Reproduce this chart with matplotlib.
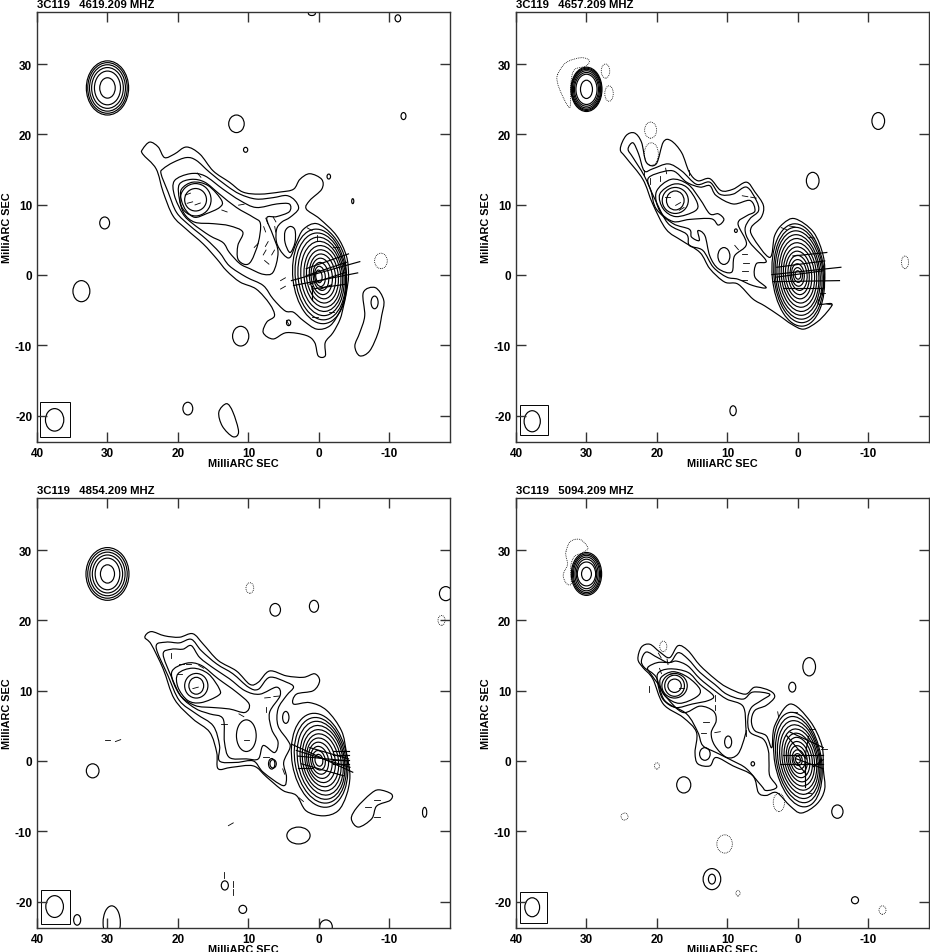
import numpy as np
import matplotlib
matplotlib.use('Agg')
import matplotlib.pyplot as plt
from matplotlib.path import Path
from matplotlib.patches import PathPatch, Ellipse, Rectangle

plt.rcParams['font.family'] = ['Liberation Sans', 'DejaVu Sans']
plt.rcParams['axes.unicode_minus'] = False

freqs = ['4619.209', '4657.209', '4854.209', '5094.209']
x_ticks = [40, 30, 20, 10, 0, -10]
y_ticks = [30, 20, 10, 0, -10, -20]

# ---- panel 1, all in milliarcsec
p1_jet = [
    [(25.0,17.9),(24.0,18.9),(22.8,18.2),(21.9,16.7),(20.5,17.2),(18.8,18.2),(16.9,17.2),(15.0,14.8),(12.7,13.2),
     (10.8,11.8),(8.4,11.5),(5.5,11.8),(3.6,12.2),(2.7,13.6),(1.3,14.4),(-0.4,13.6),(-0.4,12.2),(1.3,10.6),(1.8,9.4),
     (-0.1,8.0),(-2.5,5.6),(-3.9,2.7),(-4.2,-0.1),(-3.9,-2.5),(-3.5,-4.4),(-3.0,-6.3),(-2.0,-8.2),(-0.9,-9.6),
     (-0.9,-11.5),(0.1,-11.5),(0.6,-9.6),(1.8,-8.6),(4.6,-8.2),(6.5,-9.1),(7.9,-8.2),(7.4,-6.7),(6.3,-5.8),(7.0,-4.1),
     (8.9,-2.0),(11.2,-1.0),(13.1,0.6),(14.5,2.3),(16.4,4.4),(18.8,6.5),(20.7,8.4),(22.1,11.8),(23.1,15.1),(25.0,17.2)],
    [(22.1,15.1),(20.7,16.0),(18.8,16.7),(17.4,16.3),(15.5,14.6),(13.1,12.7),(11.2,11.5),(8.9,10.8),(6.5,11.0),(4.6,11.3),
     (3.4,10.6),(2.9,9.4),(4.1,8.2),(5.3,7.5),(6.0,6.5),(6.0,4.6),(5.1,3.0),(4.1,2.5),(3.2,4.6),(2.2,6.5),(0.3,7.3),
     (-2.0,5.6),(-3.5,3.0),(-3.9,-0.1),(-3.7,-2.9),(-3.0,-5.1),(-1.6,-7.2),(0.3,-7.7),(2.2,-6.5),(3.6,-5.3),(4.8,-5.1),
     (6.5,-3.4),(7.9,-1.5),(10.3,-0.3),(12.7,1.3),(14.1,3.2),(16.0,5.1),(18.3,7.0),(20.2,8.9),(21.4,11.8),(22.4,14.4)],
    [(20.5,13.4),(18.3,14.4),(16.2,14.1),(13.6,12.2),(11.2,10.6),(8.9,9.6),(6.0,10.1),(4.2,10.1),(4.2,9.0),(6.0,8.3),
     (7.4,8.1),(6.5,5.6),(5.8,3.2),(6.5,0.4),(7.9,0.1),(9.8,0.9),(11.2,1.6),(12.7,3.2),(13.6,4.6),(15.5,5.6),(17.9,7.3),
     (19.3,8.7),(20.5,11.3)],
    [(19.8,12.9),(18.1,13.6),(16.2,13.2),(14.1,11.5),(11.7,9.6),(9.3,8.2),(8.3,7.3),(8.6,4.6),(9.6,2.0),(10.5,1.5),
     (11.5,2.3),(11.5,4.2),(10.8,6.1),(12.7,7.0),(15.0,7.3),(17.6,7.5),(19.1,8.7),(19.8,10.8)],
    [(19.5,12.2),(17.9,13.2),(15.7,12.7),(13.8,10.6),(14.1,9.6),(16.0,8.7),(17.6,8.2),(18.8,9.1),(19.5,10.6)],
    [(-6.3,-2.5),(-8.0,-1.8),(-9.2,-3.6),(-8.9,-5.8),(-8.4,-8.2),(-7.2,-10.8),(-5.8,-11.5),(-5.1,-10.1),(-5.8,-8.2),(-6.5,-5.8)],
    [(14.2,-19.5),(13.1,-18.3),(12.2,-19.5),(11.4,-22.3),(12.2,-23.0),(13.7,-21.5)],
    [(4.1,6.9),(3.4,6.4),(3.4,4.6),(4.1,3.2),(4.8,4.6),(4.8,6.2)],
]
p1_dotted_lines = []
p1_solid = [(17.5,10.7,4.4,4.6),(17.5,10.7,3.1,3.2),
            (11.7,21.5,2.2,2.5),(10.4,17.8,0.6,0.7),(-1.4,14.0,0.5,0.7),(-4.8,10.5,0.3,0.7),(30.4,7.4,1.4,1.7),
            (33.7,-2.3,2.4,3.0),(11.1,-8.7,2.3,2.8),(18.6,-19.0,1.4,1.8),(-11.2,36.5,0.8,1.0),(-12.0,22.6,0.7,1.0),
            (1.0,37.2,1.0,0.6),(4.3,-6.8,0.6,0.8),(-7.9,-3.9,1.0,1.8)]
p1_dotted = [(-8.8,2.0,1.8,2.2)]
p1_core_w = [7.6,7.1,6.5,5.9,5.2,4.5,3.7,3.0,2.2,1.5,0.9]
p1_core_h = [13.5,12.4,11.2,10.0,8.8,7.6,6.4,5.2,4.0,2.9,1.8]
p1_core_x = [-0.1,-0.2,-0.3,-0.4,-0.5,-0.5,-0.5,-0.4,-0.3,-0.15,0.0]
p1_src_w = [6.0,5.6,5.1,4.5,3.7,2.2]
p1_src_h = [7.7,7.2,6.6,5.8,4.8,2.9]
p1_long = [(3.9,-0.8,-5.8,1.9),(3.6,-1.5,-5.5,0.3),(1.8,0.9,-4.2,3.0),(1.8,-0.1,-3.9,1.8),(1.3,-1.3,-3.9,0.4),
           (1.0,-2.0,-3.9,-1.3),(1.0,-1.6,1.0,-3.6),(-0.2,-2.0,-1.8,-1.4)]
p1_tick_x = [7.4,7.7,7.4,7.7,6.5,7.4,6.3,6.2,5.1,5.1,18.6,17.2,18.3,13.4,11.0,8.9,0.3,1.3,4.4,17.0,-1.8,-2.4,0.6]
p1_tick_y = [7.7,6.5,4.4,3.2,3.2,1.8,7.9,6.5,-0.6,-1.8,11.5,10.1,10.3,9.1,10.0,4.2,5.3,6.5,-6.8,14.2,-5.2,4.0,-6.0]
p1_tick_a = [70,70,-60,-60,-60,40,60,80,-30,-30,-20,-20,-15,20,-10,-45,90,30,60,50,0,0,0]

# ---- panel 2
p2_jet = [
    [(25.2,17.9),(24.4,19.8),(23.2,20.2),(22.2,18.9),(21.5,16.0),(20.1,15.8),(19.1,18.9),(18.0,19.1),(16.5,17.4),(15.4,14.6),
     (14.2,13.4),(12.5,13.7),(10.9,12.0),(9.2,12.2),(7.3,13.2),(6.1,11.8),(4.9,9.9),(5.2,8.2),(6.6,6.8),(6.4,5.4),(4.0,2.5),
     (3.3,5.6),(2.1,7.3),(0.4,8.0),(-2.2,6.1),(-3.6,2.7),(-3.8,-0.6),(-3.4,-2.5),(-2.9,-4.1),(-4.8,-4.1),(-4.1,-5.3),(-2.7,-6.7),
     (-0.8,-7.7),(0.9,-7.0),(2.6,-5.8),(4.7,-4.4),(6.4,-3.4),(8.5,-1.3),(10.4,-1.0),(12.5,0.9),(13.9,3.2),(16.5,4.9),(18.7,6.5),
     (20.6,10.1),(22.0,13.6),(24.4,16.7)],
    [(24.1,17.9),(23.4,18.8),(22.6,17.2),(21.8,14.8),(20.6,15.1),(18.4,15.8),(16.5,14.8),(14.4,12.9),(12.5,13.2),(11.1,11.5),
     (9.2,11.5),(7.3,12.5),(5.9,10.6),(5.6,9.1),(6.8,8.0),(7.5,6.5),(6.8,4.6),(4.5,2.0),(5.9,1.6),(6.1,-0.3),(4.5,-1.8),(6.4,-1.5),
     (8.5,-0.6),(10.1,-0.3),(12.0,1.1),(13.5,3.5),(15.4,4.2),(15.8,5.8),(18.4,7.3),(20.3,10.8),(21.8,14.1),(23.4,16.7)],
    [(21.3,13.6),(20.1,14.4),(17.7,14.8),(15.8,13.2),(13.9,12.5),(12.5,12.7),(11.6,11.3),(9.2,10.1),(6.8,10.6),(6.1,9.1),(7.3,8.4),
     (8.5,7.3),(7.3,4.4),(9.0,2.7),(9.4,0.4),(11.3,0.9),(12.5,2.7),(13.2,5.6),(14.2,6.3),(14.0,4.9),(15.1,5.4),(15.4,6.5),(17.7,7.3),
     (20.1,9.4),(20.8,11.8)],
    [(20.1,11.8),(18.0,13.6),(15.6,12.9),(13.9,10.8),(12.5,8.7),(11.3,8.7),(10.5,7.9),(11.3,7.1),(12.3,8.0),(15.4,7.9),(17.7,7.6),(19.6,9.1)],
    [(19.6,11.5),(17.7,12.9),(15.8,12.5),(14.3,10.3),(14.6,9.1),(17.3,8.3),(19.1,9.4)],
]
p2_dotted_lines = [[(34.1,28.5),(32.9,30.2),(30.8,30.9),(29.6,30.5),(30.1,29.7),(31.7,29.2),(32.2,27.4),(32.3,24.0),(32.8,24.3),(33.6,25.9),(34.1,27.3)]]
p2_solid = [(17.4,10.6,3.7,3.7),(17.4,10.6,2.5,2.7),(10.5,2.7,1.7,2.4),(8.8,6.3,0.4,0.5),(-11.4,21.9,1.8,2.4),(-2.1,13.4,1.8,2.4),(9.2,-19.3,0.9,1.4)]
p2_dotted = [(20.9,20.6,1.7,2.3),(20.8,17.2,2.0,3.2),(27.3,29.0,1.2,2.0),(26.8,25.8,1.2,2.2),(-15.2,1.8,1.0,1.8)]
p2_core_w = [7.4,7.0,6.6,6.1,5.6,5.0,4.4,3.7,3.0,2.4,1.8,1.3,0.8]
p2_core_h = [14.6,13.6,12.6,11.5,10.4,9.2,8.0,6.8,5.6,4.4,3.2,2.1,1.2]
p2_core_x = [-0.05,-0.1,-0.1,-0.1,-0.15,-0.15,-0.15,-0.1,-0.1,-0.1,0.0,0.0,0.0]
p2_src_w = [4.4,4.2,4.0,3.7,3.4,3.0,1.7]
p2_src_h = [6.3,6.0,5.7,5.3,4.8,4.3,2.6]
p2_long = [(3.7,0.05,-6.1,1.1),(3.5,-0.95,-5.9,-0.8),(3.0,1.1,-3.8,2.0),(3.0,-0.3,-3.6,0.6),(2.1,-1.8,-3.6,-1.8),(0.7,2.7,-4.1,3.2)]
p2_tick_x = [21.8,21.0,19.5,18.7,18.5,17.0,16.5,7.5,6.3,7.6,7.4,7.5,7.6,8.7,2.0,0.8,-2.0,-3.5,-4.5,15.5]
p2_tick_y = [14.5,13.4,13.7,14.8,11.1,10.1,9.4,11.2,11.0,3.0,1.7,0.5,-0.7,3.9,6.6,6.9,5.3,-2.6,-4.2,14.6]
p2_tick_a = [90,90,90,80,0,-30,-30,10,10,0,0,0,0,50,20,10,10,0,10,90]

# ---- panel 3
p3_jet = [
    [(24.7,17.6),(23.8,18.4),(21.9,17.8),(19.8,17.6),(17.9,18.1),(16.4,16.6),(14.3,14.3),(11.7,12.8),(9.8,10.9),(8.6,11.2),(7.0,12.8),
     (4.6,12.1),(2.2,11.9),(0.6,12.4),(-0.1,11.4),(0.8,10.0),(3.2,9.5),(3.6,8.1),(1.3,8.3),(-1.1,7.2),(-3.2,4.3),(-3.9,1.2),(-4.4,-2.1),
     (-3.9,-4.9),(-2.7,-7.1),(-0.6,-7.8),(1.8,-7.1),(3.2,-4.9),(5.1,-4.2),(7.4,-2.3),(9.3,-0.7),(12.4,-0.9),(14.3,-1.1),(14.5,1.2),
     (15.5,4.1),(17.9,6.0),(20.5,8.8),(22.1,13.1),(23.8,16.6)],
    [(23.1,16.2),(21.7,16.9),(19.8,16.8),(18.1,17.3),(16.7,15.7),(14.5,13.8),(12.2,12.4),(10.0,10.5),(8.6,10.2),(7.0,11.9),(4.6,11.2),
     (3.6,10.5),(4.6,9.3),(5.8,7.4),(5.8,5.0),(4.4,2.9),(4.1,1.9),(5.0,-0.2),(4.6,-2.3),(5.1,-3.5),(7.9,-1.6),(9.3,0.0),(11.7,-0.2),
     (14.1,0.0),(14.1,2.2),(15.0,5.0),(17.4,6.7),(19.8,8.6),(21.4,12.1)],
    [(22.1,15.2),(20.9,15.9),(19.3,15.9),(18.1,16.4),(16.9,14.7),(14.8,13.1),(12.7,11.7),(10.5,10.0),(8.4,9.5),(6.0,10.5),(5.5,9.3),
     (7.0,6.9),(6.7,4.5),(5.8,2.7),(6.3,1.2),(7.9,2.2),(8.6,0.3),(10.3,0.3),(12.7,0.5),(13.4,2.7),(13.6,6.0),(15.5,6.7),(17.4,7.4),
     (19.5,9.1),(20.9,11.9)],
    [(20.9,12.6),(18.8,13.9),(16.7,13.6),(14.3,11.7),(11.7,9.8),(9.9,8.1),(10.5,6.9),(12.7,7.4),(15.0,7.6),(17.6,7.9),(19.8,9.5)],
    [(20.0,12.4),(17.9,13.2),(15.7,12.4),(14.1,10.2),(14.3,9.3),(16.7,8.3),(18.6,8.6),(20.0,10.5)],
    [(-4.6,-8.2),(-5.4,-6.6),(-7.3,-4.7),(-8.5,-4.1),(-10.3,-4.7),(-10.1,-5.6),(-8.2,-6.4),(-7.5,-8.2),(-5.6,-9.4)],
]
p3_dotted_lines = []
p3_solid = [(17.4,10.7,3.3,3.5),(17.4,10.7,2.1,2.4),(10.3,3.6,2.8,4.5),(6.5,-0.4,0.9,1.2),(4.7,6.2,0.9,1.7),(2.9,-10.6,3.3,2.4),
            (6.2,21.5,1.5,1.8),(0.7,22.0,1.3,1.7),(-18.0,23.8,1.8,2.0),(32.1,-1.4,1.8,2.0),(6.7,-0.4,0.9,1.5),(13.35,-17.7,1.0,1.3),
            (10.8,-21.1,1.1,1.15),(29.4,-23.0,2.45,4.8),(34.3,-22.6,1.0,1.5),(-1.0,-23.6,1.8,2.0),(-15.0,-7.3,0.6,1.4)]
p3_dotted = [(9.8,24.6,1.1,1.5),(-17.4,20.0,1.0,1.4)]
p3_core_w = [7.8,7.2,6.6,6.0,5.4,4.7,4.0,3.3,2.5,1.8,1.1]
p3_core_h = [13.5,12.3,11.2,10.0,8.8,7.6,6.4,5.2,4.0,2.8,1.7]
p3_core_x = [-0.1,-0.2,-0.3,-0.4,-0.4,-0.4,-0.3,-0.2,-0.1,0.0,0.0]
p3_src_w = [6.1,5.6,5.0,4.3,3.5,2.0]
p3_src_h = [7.5,6.9,6.2,5.4,4.5,2.6]
p3_long = [(3.9,2.4,-4.8,-1.6),(3.2,1.5,-4.4,-0.9),(3.0,0.7,-4.2,0.0),(2.5,-0.4,-3.5,-2.1),(1.3,1.9,-4.2,0.3),
           (-2.0,1.4,-4.3,1.4),(-2.0,0.8,-4.3,0.8),(-2.0,0.2,-4.3,0.2),(-2.0,-0.4,-4.3,-0.4),(3.0,-1.0,1.0,-1.0)]
p3_tick_x = [21.0,19.5,18.5,19.8,16.7,17.5,7.3,6.0,7.5,11.0,13.5,10.3,7.5,5.0,-8.2,-7.0,-8.2,2.5,30.0,28.5,13.5,12.2,12.2,12.5]
p3_tick_y = [15.0,13.8,13.8,12.4,13.4,10.4,9.0,9.2,7.3,6.5,5.2,3.0,0.6,-1.5,-5.5,-6.6,-8.0,-5.5,3.0,2.9,-16.2,-17.5,-18.6,-9.0]
p3_tick_a = [90,0,0,0,30,-15,-5,-5,90,30,0,0,0,70,0,0,0,40,0,-20,90,90,90,-30]

# ---- panel 4
p4_jet = [
    [(22.7,14.5),(22.2,16.2),(21.0,16.6),(19.6,15.5),(18.2,14.7),(17.0,16.4),(15.6,15.7),(13.9,13.6),(11.8,11.7),(10.1,10.5),(7.5,9.5),
     (6.1,10.5),(4.0,10.0),(3.3,9.1),(4.5,7.9),(6.1,7.2),(6.6,5.7),(6.1,4.3),(4.5,3.6),(3.7,1.9),(3.3,5.0),(1.1,8.1),(-1.7,5.7),(-3.4,2.2),
     (-3.6,-1.1),(-3.8,-4.0),(-2.7,-6.1),(-0.5,-7.4),(1.1,-6.4),(3.0,-4.5),(4.5,-4.9),(5.6,-4.5),(6.4,-2.1),(9.2,-0.7),(11.6,0.5),(12.5,-0.7),
     (14.2,-0.4),(14.6,1.2),(14.4,4.1),(16.3,6.2),(19.1,8.1),(20.6,11.7),(22.0,13.3)],
    [(22.2,14.3),(21.5,15.5),(19.9,14.7),(18.2,14.0),(17.0,15.4),(15.6,14.5),(13.9,12.6),(11.8,10.9),(10.1,9.5),(7.8,8.8),(6.4,9.8),(4.0,9.5),
     (5.2,8.6),(6.6,7.6),(7.1,6.0),(6.8,4.1),(4.9,3.1),(4.2,1.5),(4.1,-0.2),(4.0,-2.1),(3.0,-3.7),(4.5,-4.2),(5.2,-3.5),(7.3,-1.1),(9.2,0.0),
     (11.6,1.2),(13.5,2.2),(14.2,4.1),(15.8,6.7),(18.9,8.6),(20.1,11.9),(21.8,13.3)],
    [(21.3,13.3),(19.9,14.0),(18.2,14.0),(17.2,14.2),(15.6,13.5),(13.9,11.7),(11.8,10.0),(10.1,8.8),(7.8,7.8),(7.4,5.0),(7.5,3.6),(8.5,1.0),
     (10.1,0.5),(11.8,2.2),(12.3,4.0),(11.6,5.7),(12.0,7.1),(13.9,7.8),(16.3,6.9),(18.6,9.0),(19.8,10.9),(20.9,12.4)],
    [(19.9,12.4),(18.2,13.1),(15.6,12.6),(13.9,10.9),(12.0,9.3),(12.7,8.6),(15.0,8.1),(17.3,7.6),(19.0,8.6),(19.7,10.2)],
    [(19.4,11.9),(17.7,12.7),(15.6,11.9),(13.9,10.2),(14.4,9.1),(16.8,8.2),(18.7,9.1),(19.5,10.5)],
]
p4_dotted_lines = [[(32.9,29.8),(32.3,31.2),(30.9,31.5),(29.8,30.3),(30.6,29.6),(31.7,29.1),(32.2,27.9),(32.2,26.3),(32.2,25.1),(32.9,25.3),(33.3,26.5),(32.7,27.9),(32.9,29.1)]]
p4_solid = [(17.5,10.7,3.6,3.5),(17.5,10.7,2.8,3.0),(17.5,10.7,1.9,1.9),(9.9,2.7,1.0,1.7),(13.2,1.0,1.5,1.8),(6.4,-0.4,0.5,0.6),(0.8,10.5,1.0,1.4),
            (-1.6,13.4,1.8,2.6),(16.2,-3.4,2.0,2.3),(-5.6,-7.2,1.6,1.9),(12.2,-16.8,2.5,3.0),(12.2,-16.8,1.0,1.4),(-8.1,-19.8,1.0,1.0)]
p4_dotted = [(19.1,16.3,1.0,1.5),(20.0,-0.7,0.7,0.9),(24.6,-7.9,1.0,1.0),(2.7,-5.9,1.6,2.6),(10.4,-11.8,2.2,2.6),(8.5,-18.8,0.6,0.8),
             (-12.0,-21.2,1.0,1.2)]
p4_core_w = [6.6,6.2,5.8,5.3,4.8,4.2,3.6,3.0,2.4,1.8,1.2,0.7]
p4_core_h = [13.6,12.4,11.2,10.0,8.8,7.6,6.4,5.2,4.0,2.8,1.7,1.0]
p4_core_x = [0.0,-0.05,-0.1,-0.15,-0.2,-0.2,-0.2,-0.15,-0.1,-0.1,0.0,0.0]
p4_src_w = [4.3,4.0,3.7,3.3,2.9,2.6,1.4]
p4_src_h = [6.1,5.7,5.3,4.8,4.2,3.4,1.9]
p4_long = [(2.6,-0.4,-3.6,-0.4),(2.1,0.8,-3.6,0.8),(1.6,3.6,-1.2,0.3),(1.1,4.1,-3.6,1.9),(0.2,0.3,-3.6,-1.1),(-1.0,0.0,-1.0,-3.7),
           (0.2,-0.2,-1.2,-1.9),(-1.5,3.5,-1.0,0.5),(-3.6,0.2,-2.2,-0.8)]
p4_tick_x = [19.6,18.5,19.5,17.8,16.5,21.1,11.8,11.8,13.0,13.4,11.4,7.4,-2.0,-3.7,2.8,0.5,-1.5]
p4_tick_y = [15.0,14.1,12.8,12.4,10.4,10.2,9.0,7.6,5.6,4.0,4.1,4.0,4.6,1.7,6.6,7.0,-4.5]
p4_tick_a = [60,80,70,-10,0,90,90,90,0,0,-10,90,0,0,80,0,0]

src_x = [30.0, 30.0, 30.0, 30.0]
src_y = [26.6, 26.4, 26.6, 26.6]
core_tilt = [-6, -5, -10, -10]
core_y = [-0.2, 0.0, 0.1, 0.2]
beam_x = [37.5, 37.7, 37.5, 37.7]
beam_y = [-20.6, -20.8, -20.7, -20.8]
beam_w = [2.6, 2.3, 2.5, 2.1]
beam_h = [3.2, 3.0, 3.1, 2.7]
box_x0 = [39.6, 39.4, 39.5, 39.4]
box_x1 = [35.3, 35.5, 35.3, 35.6]
box_y0 = [-23.1, -22.7, -23.2, -23.1]
box_y1 = [-18.0, -18.5, -18.3, -18.6]

jets = [p1_jet, p2_jet, p3_jet, p4_jet]
dotted_lines = [p1_dotted_lines, p2_dotted_lines, p3_dotted_lines, p4_dotted_lines]
solids = [p1_solid, p2_solid, p3_solid, p4_solid]
dotteds = [p1_dotted, p2_dotted, p3_dotted, p4_dotted]
core_ws = [p1_core_w, p2_core_w, p3_core_w, p4_core_w]
core_hs = [p1_core_h, p2_core_h, p3_core_h, p4_core_h]
core_xs = [p1_core_x, p2_core_x, p3_core_x, p4_core_x]
src_ws = [p1_src_w, p2_src_w, p3_src_w, p4_src_w]
src_hs = [p1_src_h, p2_src_h, p3_src_h, p4_src_h]
longs = [p1_long, p2_long, p3_long, p4_long]
tick_xs = [p1_tick_x, p2_tick_x, p3_tick_x, p4_tick_x]
tick_ys = [p1_tick_y, p2_tick_y, p3_tick_y, p4_tick_y]
tick_as = [p1_tick_a, p2_tick_a, p3_tick_a, p4_tick_a]

LW = 0.85
W, H = 930, 953
lefts = [37, 516, 37, 516]
tops = [13, 13, 499, 499]


# smooth curve through the read points, using bezier segments
def curve(pts, closed=True):
    p = np.array(pts, dtype=float)
    if closed:
        t = (np.roll(p, -1, axis=0) - np.roll(p, 1, axis=0)) / 6
        n = len(p)
    else:
        t = np.gradient(p, axis=0) / 3
        n = len(p) - 1
    verts = [p[0]]
    codes = [Path.MOVETO]
    for i in range(n):
        j = (i + 1) % len(p)
        verts += [p[i] + t[i], p[j] - t[j], p[j]]
        codes += [Path.CURVE4] * 3
    return Path(verts, codes)


def ring(ax, x, y, w, h, angle=0, dotted=False):
    ls = (0, (1, 1.2)) if dotted else '-'
    lw = 0.6 if dotted else LW
    ax.add_patch(Ellipse((x, y), w, h, angle=angle, fill=False, ec='black', lw=lw, ls=ls))


fig = plt.figure(figsize=(W / 100, H / 100), dpi=100)

for i in range(4):
    ax = fig.add_axes([lefts[i] / W, 1 - (tops[i] + 430) / H, 413 / W, 430 / H])
    ax.set_xlim(40, -18.6)
    ax.set_ylim(-23.75, 37.4)

    for pts in jets[i]:
        ax.add_patch(PathPatch(curve(pts), fill=False, ec='black', lw=LW))
    for pts in dotted_lines[i]:
        ax.add_patch(PathPatch(curve(pts), fill=False, ec='black', lw=0.6, ls=(0, (1, 1.2))))

    for x, y, w, h in solids[i]:
        ring(ax, x, y, w, h)
    for x, y, w, h in dotteds[i]:
        ring(ax, x, y, w, h, dotted=True)

    for w, h, x in zip(core_ws[i], core_hs[i], core_xs[i]):
        ring(ax, x, core_y[i], w, h, angle=core_tilt[i])
    for w, h in zip(src_ws[i], src_hs[i]):
        ring(ax, src_x[i], src_y[i], w, h)

    # polarisation vectors
    for x0, y0, x1, y1 in longs[i]:
        ax.plot([x0, x1], [y0, y1], color='black', lw=LW)
    for x, y, a in zip(tick_xs[i], tick_ys[i], tick_as[i]):
        dx = 0.4 * np.cos(np.radians(a))
        dy = 0.4 * np.sin(np.radians(a))
        ax.plot([x - dx, x + dx], [y - dy, y + dy], color='black', lw=0.6)

    # beam
    ring(ax, beam_x[i], beam_y[i], beam_w[i], beam_h[i])
    ax.add_patch(Rectangle((box_x1[i], box_y0[i]), box_x0[i] - box_x1[i], box_y1[i] - box_y0[i],
                           fill=False, ec='black', lw=0.7))

    ax.set_xticks(x_ticks)
    ax.set_yticks(y_ticks)
    ax.tick_params(direction='in', length=7, width=1.0, color='#333333', top=True, right=True, pad=3.5, labelsize=8.5)
    for lab in ax.get_xticklabels() + ax.get_yticklabels():
        lab.set_fontweight('bold')
    for s in ax.spines.values():
        s.set_linewidth(1.0)
        s.set_color('#333333')
    ax.set_xlabel('MilliARC SEC', fontsize=7.8, fontweight='bold', labelpad=-0.8)
    ax.set_ylabel('MilliARC SEC', fontsize=7.8, fontweight='bold', labelpad=2)
    ax.set_title('3C119   ' + freqs[i] + ' MHZ', fontsize=8.2, fontweight='bold', loc='left', pad=3.5)

fig.savefig('out.png', dpi=100)
